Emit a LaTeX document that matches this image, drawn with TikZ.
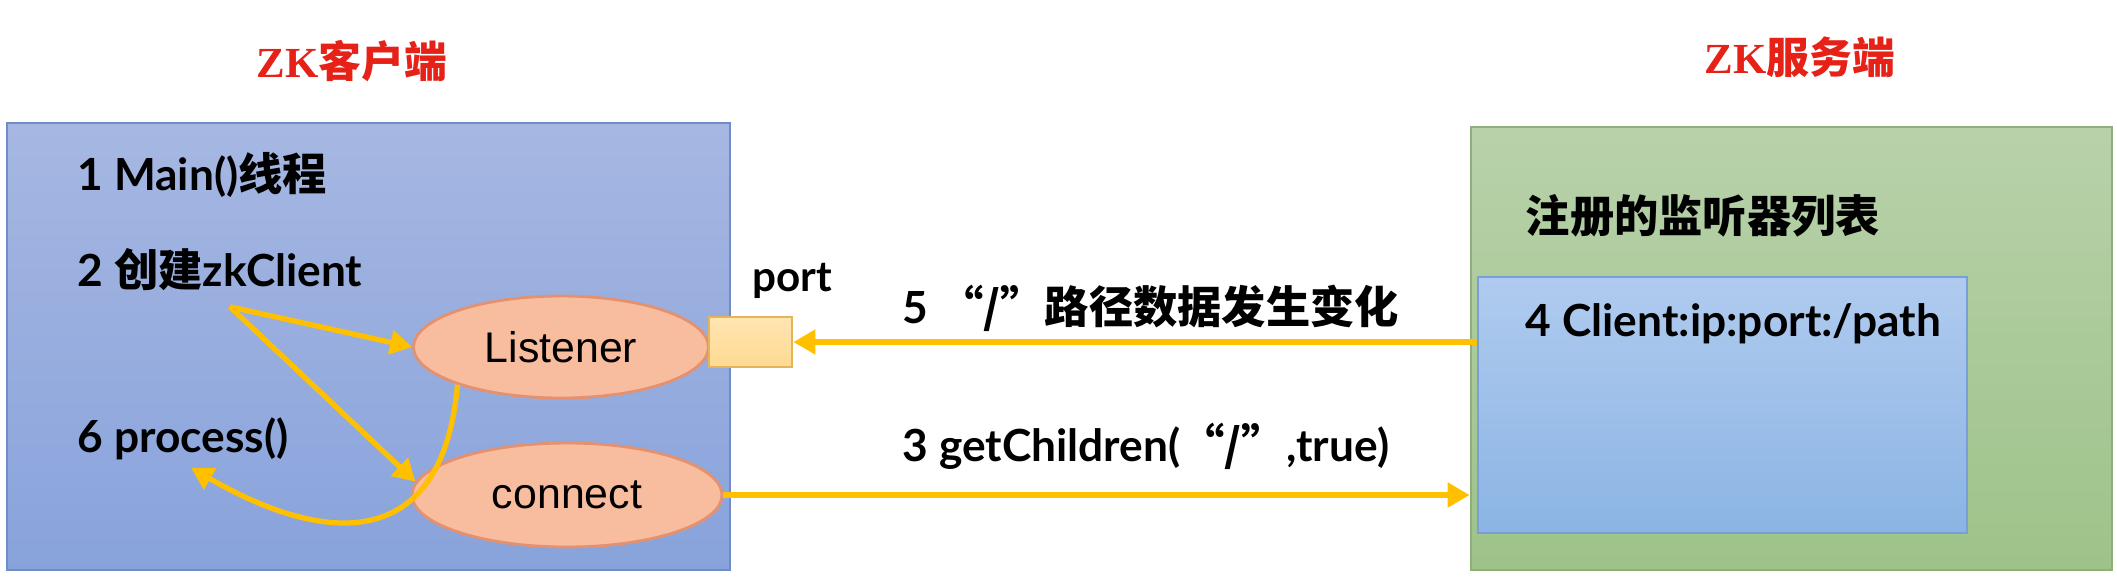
\documentclass[tikz,border=0pt]{standalone}
\usepackage{fontspec}
\setmainfont{Lato}
\newfontfamily\cjk{Noto Sans CJK SC}
\newfontfamily\titleserif{Liberation Serif}
\newfontfamily\plainsans{Liberation Sans}
\newcommand{\zhtext}[1]{{\cjk #1}}
\usetikzlibrary{positioning}
\usetikzlibrary{shapes}
\usetikzlibrary{arrows.meta}
\usetikzlibrary{calc}

\definecolor{clientTop}{RGB}{166,183,226}
\definecolor{clientBottom}{RGB}{136,163,219}
\definecolor{clientLine}{RGB}{112,140,200}
\definecolor{serverTop}{RGB}{184,209,170}
\definecolor{serverBottom}{RGB}{157,195,137}
\definecolor{serverLine}{RGB}{140,176,120}
\definecolor{listTop}{RGB}{176,203,239}
\definecolor{listBottom}{RGB}{139,180,228}
\definecolor{listLine}{RGB}{120,160,215}
\definecolor{ovalFill}{RGB}{248,188,158}
\definecolor{ovalLine}{RGB}{228,145,112}
\definecolor{portFill}{RGB}{255,218,145}
\definecolor{portLine}{RGB}{228,180,90}
\definecolor{flowGold}{RGB}{255,192,0}
\definecolor{titleRed}{RGB}{230,33,23}

\begin{document}
\begin{tikzpicture}[
	headline/.style={font=\bfseries\fontsize{12.2}{14}\selectfont, text=titleRed},
	itemtext/.style={font=\bfseries\fontsize{12.6}{15}\selectfont, inner sep=2pt, anchor=west},
	panel/.style={rectangle, line width=0.8pt, inner sep=0pt},
	oval/.style={ellipse, draw=ovalLine, fill=ovalFill, line width=0.8pt,
		inner sep=0pt, font=\plainsans\fontsize{12.2}{14}\selectfont},
	flow/.style={draw=flowGold, line width=1.5pt, -{Triangle[length=0.22cm,width=0.24cm]}}]

\useasboundingbox (0,0) rectangle (21.17,-5.79);

% titles
\node (clienttitle) at (3.52,-0.61) [headline] {{\titleserif ZK}\zhtext{客户端}};
\node (servertitle) at (18.00,-0.57) [headline] {{\titleserif ZK}\zhtext{服务端}};

% client box
\node (client) at (3.685,-3.465) [panel, draw=clientLine,
	top color=clientTop, bottom color=clientBottom,
	minimum width=7.23cm, minimum height=4.47cm] {};

\node (mainthread) at (0.70,-1.75) [itemtext] {1 Main()\zhtext{线程}};
\node (zkclient) at (0.70,-2.70) [itemtext] {2 \zhtext{创建}zkClient};
\node (process) at (0.70,-4.39) [itemtext] {6 process()};

\node (listener) at (5.61,-3.47) [oval, minimum width=2.95cm, minimum height=1.02cm] {Listener};
\node (connect) at (5.67,-4.95) [oval, minimum width=3.10cm, minimum height=1.04cm] {connect};

% port
\node (port) at (7.505,-3.42) [rectangle, draw=portLine, line width=0.8pt,
	top color=portFill!70!white, bottom color=portFill,
	minimum width=0.83cm, minimum height=0.50cm] {};
\node (portlabel) at (7.45,-2.81) [itemtext, font=\bfseries\fontsize{12}{14}\selectfont] {port};

% server box
\node (server) at (17.915,-3.485) [panel, draw=serverLine,
	top color=serverTop, bottom color=serverBottom,
	minimum width=6.41cm, minimum height=4.43cm] {};
\node (registry) at (15.18,-2.16) [itemtext] {\zhtext{注册的监听器列表}};

\node (clients) at (17.225,-4.05) [panel, draw=listLine, line width=0.5pt,
	top color=listTop, bottom color=listBottom,
	minimum width=4.89cm, minimum height=2.56cm] {};
\node (clientpath) at (15.18,-3.24) [itemtext] {4 Client:ip:port:/path};

% calls between client and server
\node (changed) at (8.95,-3.08) [itemtext] {5 \zhtext{“/”路径数据发生变化}};
\node (getchildren) at (8.95,-4.46) [itemtext] {3 getChildren(\zhtext{“/”},true)};

\draw[flow] (clients.west |- port.east) -- (port.east);
\draw[flow] (connect.east) -- (server.west |- connect.east);

% threads started by zkClient
\coordinate (fork) at ([xshift=0.1cm,yshift=-0.08cm]zkclient.south);
\draw[flow] (fork) -- (listener.west);
\draw[flow] (fork) -- (connect.175);

% callback back to process()
\draw[flow] (listener.200) to[out=-95, in=-30, looseness=1.5] ([xshift=0.08cm]process.south);

\end{tikzpicture}
\end{document}
